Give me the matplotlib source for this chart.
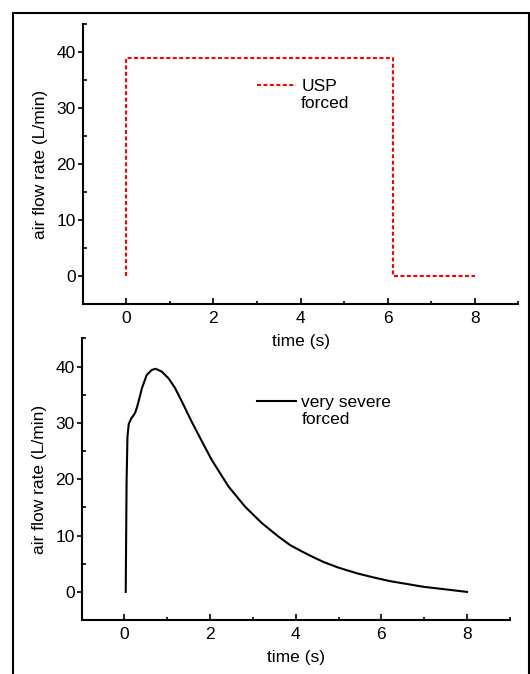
import matplotlib.pyplot as plt
from matplotlib.lines import Line2D
from matplotlib.patches import Rectangle
from matplotlib.ticker import MultipleLocator

plt.rcParams['font.family'] = ['Liberation Sans', 'DejaVu Sans']
plt.rcParams['font.size'] = 12.5

# USP forced profile (step)
usp_t = [0, 0, 6.13, 6.13, 8.0]
usp_q = [0, 39, 39, 0, 0]

# very severe forced profile
sev_t = [0.03, 0.04, 0.05, 0.07, 0.1, 0.16, 0.2, 0.25, 0.29, 0.33, 0.41,
         0.52, 0.64, 0.73, 0.87, 1.03, 1.18, 1.34, 1.57, 1.81, 2.04, 2.43,
         2.82, 3.21, 3.6, 3.87, 4.14, 4.4, 4.65, 5.0, 5.43, 5.8, 6.21, 6.6,
         6.99, 7.5, 8.0]
sev_q = [0, 10, 19.5, 27.5, 29.8, 30.8, 31.2, 31.8, 32.7, 33.8, 36.2,
         38.5, 39.4, 39.6, 39.1, 37.9, 36.2, 33.8, 30.2, 26.7, 23.4, 18.7,
         15.1, 12.2, 9.8, 8.3, 7.2, 6.2, 5.3, 4.3, 3.3, 2.6, 1.9, 1.4,
         0.9, 0.45, 0.0]

xticks = [0, 2, 4, 6, 8]
yticks = [0, 10, 20, 30, 40]

fig = plt.figure(figsize=(5.3, 6.74), dpi=100)
ax1 = fig.add_axes([0.156, 0.549, 0.822, 0.415])
ax2 = fig.add_axes([0.154, 0.080, 0.808, 0.418])
ax2.patch.set_visible(False)

# frame round the figure
fig.patches.append(Rectangle((13 / 530, -0.1), 515.5 / 530, 1.1 - 13 / 674,
                             transform=fig.transFigure, fill=False,
                             lw=1.5, ec='black'))


def style(ax):
    ax.set_xlim(-1, 9)
    ax.set_ylim(-5, 45)
    ax.set_xticks(xticks)
    ax.set_yticks(yticks)
    ax.xaxis.set_minor_locator(MultipleLocator(1))
    ax.yaxis.set_minor_locator(MultipleLocator(5))
    for s in ['top', 'right']:
        ax.spines[s].set_visible(False)
    for s in ['left', 'bottom']:
        ax.spines[s].set_linewidth(1.5)
    ax.tick_params(axis='x', which='both', direction='in', width=1.2)
    ax.tick_params(axis='x', which='major', length=4, pad=5)
    ax.tick_params(axis='x', which='minor', length=2.5)
    ax.tick_params(axis='y', which='major', direction='out', length=3.5,
                   width=1.2, pad=1.5)
    ax.tick_params(axis='y', which='minor', direction='in', length=3, width=1.2)
    ax.set_xlabel('time (s)', labelpad=6)
    ax.set_ylabel('air flow rate (L/min)', labelpad=6)


style(ax1)
style(ax2)

l1, = ax1.plot(usp_t, usp_q, color='red', lw=1.5)
l1.set_dashes((1.9, 1.2))
blank = Line2D([], [], color='none')
ax1.legend([l1, blank], ['USP', 'forced'], frameon=False, loc='upper left',
           bbox_to_anchor=(0.40, 0.805), borderpad=0, borderaxespad=0,
           handlelength=2.25, handletextpad=0.3, labelspacing=0.12)

l2, = ax2.plot(sev_t, sev_q, color='black', lw=1.5)
ax2.legend([l2, blank], ['very severe', 'forced'], frameon=False,
           loc='upper left', bbox_to_anchor=(0.41, 0.80), borderpad=0,
           borderaxespad=0, handlelength=2.25, handletextpad=0.3,
           labelspacing=0.12)

fig.savefig('out.png', dpi=100)
